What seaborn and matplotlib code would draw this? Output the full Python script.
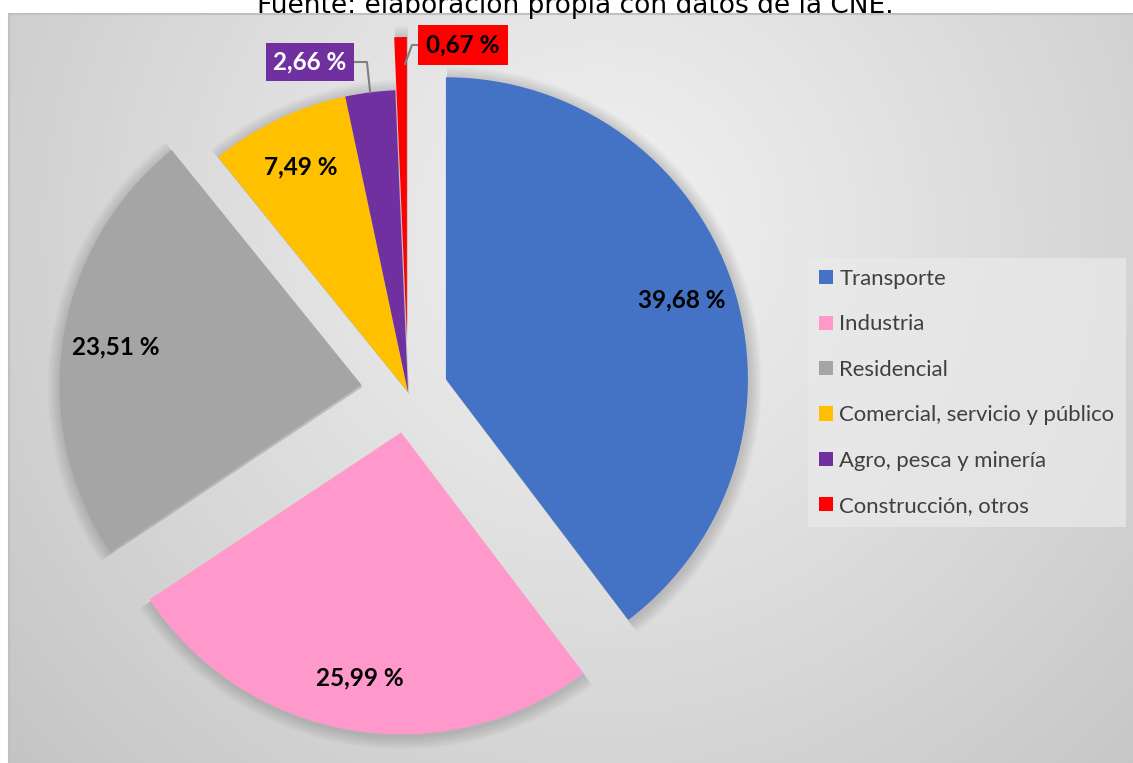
import numpy as np
import matplotlib
matplotlib.use("Agg")
import matplotlib.pyplot as plt
import seaborn as sns

# ---------------- data ----------------
categories = ["Transporte", "Industria", "Residencial",
              "Comercial, servicio y público", "Agro, pesca y minería",
              "Construcción, otros"]
values = [39.68, 25.99, 23.51, 7.49, 2.66, 0.67]
colors = ["#4472C4", "#FF99CC", "#A5A5A5", "#FFC000", "#7030A0", "#FF0000"]
explode_px = [40, 41, 47, 0, 0, 53]
title_text = "Fuente: elaboración propia con datos de la CNE."

sns.set_theme(style="white")
plt.rcParams["font.family"] = ["Lato", "DejaVu Sans"]

W, H = 1133, 763
fig = plt.figure(figsize=(W / 100, H / 100), dpi=100)
fig.patch.set_facecolor("white")

# ---------------- chart-area background (radial gradient) ----------------
left, top = 9, 14
bg = fig.add_axes([left / W, 0, 1 - left / W, (H - top) / H])
yy, xx = np.mgrid[top:H, left:W]
cx, cy = 600, 230
d = np.sqrt((xx - cx) ** 2 + (yy - cy) ** 2)
d = d / d.max()
val = 0.945 - 0.175 * d ** 1.1
img = np.dstack([val, val, val])
bg.imshow(img, extent=(0, 1, 0, 1), aspect="auto", interpolation="bilinear")
bg.set_xlim(0, 1)
bg.set_ylim(0, 1)
bg.set_xticks([])
bg.set_yticks([])
for s in ["right", "bottom"]:
    bg.spines[s].set_visible(False)
for s in ["left", "top"]:
    bg.spines[s].set_color("#c0c0c0")
    bg.spines[s].set_linewidth(1.5)

# ---------------- pie axes in pixel coordinates ----------------
ax = fig.add_axes([0, 0, 1, 1])
ax.set_facecolor("none")
center = (408, H - 392)
R = 302

# soft shadow halos
for k in range(1, 9):
    rk = R + 1.6 * k
    ax.pie(values, colors=["black"] * len(values), startangle=90,
           counterclock=False, radius=rk, center=(center[0] + 1, center[1] - 2),
           explode=explode_px, frame=True,
           wedgeprops=dict(alpha=0.02, linewidth=0))

wedges, texts, autotexts = ax.pie(
    values, colors=colors, startangle=90, counterclock=False, radius=R,
    center=center, explode=explode_px, frame=True,
    autopct=lambda p: f"{p:.2f} %".replace(".", ","), pctdistance=0.825,
    wedgeprops=dict(linewidth=0),
    textprops=dict(fontsize=17.5, fontweight="bold", color="black"))

ax.set_xlim(0, W)
ax.set_ylim(0, H)
ax.set_aspect("auto")
ax.set_xticks([])
ax.set_yticks([])
for s in ax.spines.values():
    s.set_visible(False)


def edge_point(i, frac_r, ang_off):
    w = wedges[i]
    if ang_off is None:
        th = np.deg2rad((w.theta1 + w.theta2) / 2)
    else:
        th = np.deg2rad(w.theta1 + ang_off)
    cxw, cyw = w.center
    return (cxw + frac_r * w.r * np.cos(th), cyw + frac_r * w.r * np.sin(th))


# Agro, pesca y minería (index 4)
autotexts[4].set_visible(False)
p4 = edge_point(4, 1.0, None)
ax.annotate(autotexts[4].get_text(), xy=p4, xytext=(310, H - 62),
            ha="center", va="center", fontsize=17.5, fontweight="bold", color="white",
            bbox=dict(boxstyle="square,pad=0.3", fc=colors[4], ec="none"),
            arrowprops=dict(arrowstyle="-", color="#808080", lw=1.5,
                            connectionstyle="angle,angleA=0,angleB=96,rad=0",
                            shrinkA=0, shrinkB=0))

# Construcción, otros (index 5)
autotexts[5].set_visible(False)
p5 = edge_point(5, 0.91, 0.4)
ax.annotate(autotexts[5].get_text(), xy=p5, xytext=(463, H - 45),
            ha="center", va="center", fontsize=17.5, fontweight="bold", color="black",
            bbox=dict(boxstyle="square,pad=0.35", fc=colors[5], ec="none"),
            arrowprops=dict(arrowstyle="-", color="#808080", lw=1.5,
                            connectionstyle="angle,angleA=180,angleB=70,rad=0",
                            shrinkA=0, shrinkB=0))

# ---------------- legend ----------------
leg = ax.legend(wedges, categories, loc="upper left",
                bbox_to_anchor=(808 / W, 1 - 258 / H), bbox_transform=fig.transFigure,
                frameon=True, fontsize=15.9, labelspacing=1.15,
                handlelength=0.62, handleheight=0.62, handletextpad=0.3,
                borderpad=0.5, borderaxespad=0, fancybox=False)
leg.get_frame().set_facecolor("#eaeaea")
leg.get_frame().set_alpha(0.7)
leg.get_frame().set_edgecolor("none")
for t in leg.get_texts():
    t.set_color("#404040")

# ---------------- title (partly cut at top, as in the reference) ----------------
fig.text(575 / W, 1 - 13 / H, title_text, ha="center", va="baseline",
         fontsize=19, family="DejaVu Sans", color="#000000")

fig.savefig("out.png", dpi=100)
